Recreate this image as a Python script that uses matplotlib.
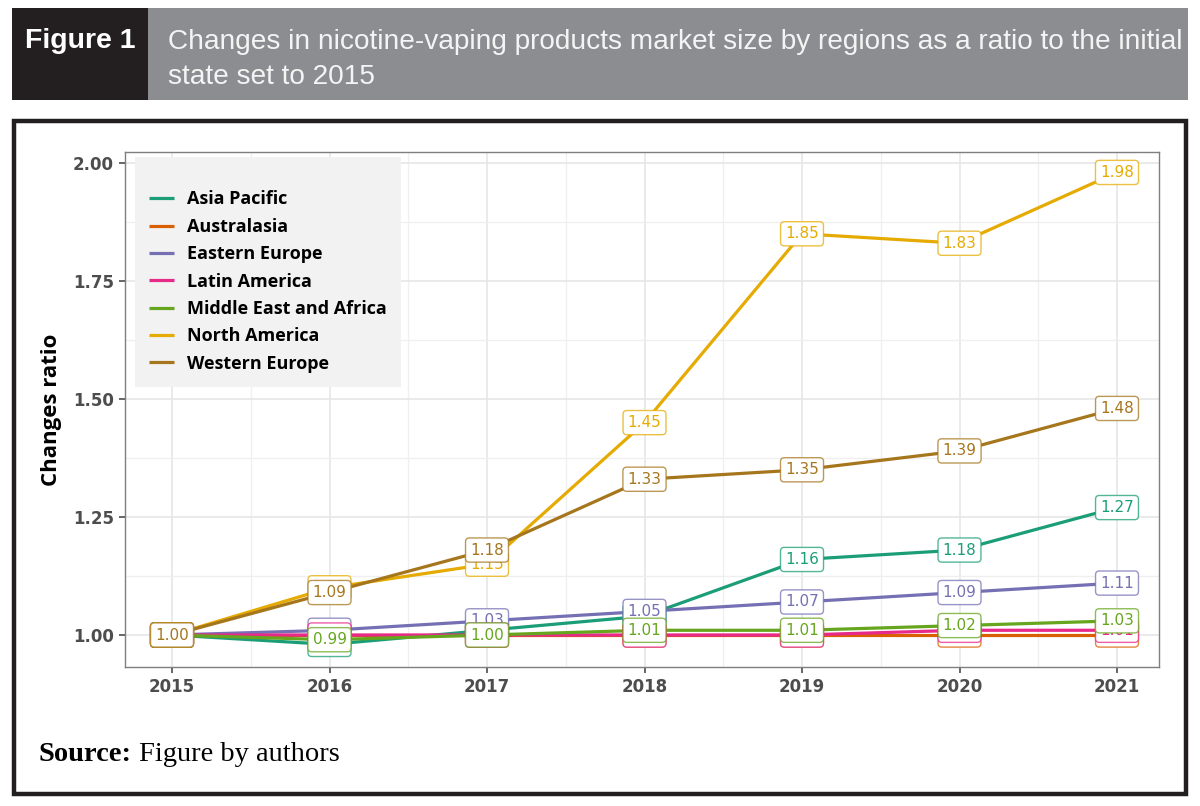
import matplotlib
matplotlib.use("Agg")
import matplotlib.pyplot as plt
from matplotlib.patches import Rectangle
from matplotlib.colors import to_rgba

years = [2015, 2016, 2017, 2018, 2019, 2020, 2021]
regions = ["Asia Pacific", "Australasia", "Eastern Europe", "Latin America",
           "Middle East and Africa", "North America", "Western Europe"]
asia_pacific = [1.00, 0.98, 1.01, 1.04, 1.16, 1.18, 1.27]
australasia = [1.00, 1.00, 1.00, 1.00, 1.00, 1.00, 1.00]
eastern_europe = [1.00, 1.01, 1.03, 1.05, 1.07, 1.09, 1.11]
latin_america = [1.00, 1.00, 1.00, 1.00, 1.00, 1.01, 1.01]
middle_east_africa = [1.00, 0.99, 1.00, 1.01, 1.01, 1.02, 1.03]
north_america = [1.00, 1.10, 1.15, 1.45, 1.85, 1.83, 1.98]
western_europe = [1.00, 1.09, 1.18, 1.33, 1.35, 1.39, 1.48]
series = [asia_pacific, australasia, eastern_europe, latin_america,
          middle_east_africa, north_america, western_europe]
colors = ["#1B9E77", "#D95F02", "#7570B3", "#E7298A", "#66A61E", "#E6AB02", "#A6761D"]
y_ticks = [1.00, 1.25, 1.50, 1.75, 2.00]

W, H = 1200, 806
fig = plt.figure(figsize=(W / 100, H / 100), dpi=100)
fig.patch.set_facecolor("white")

def fx(px):
    return px / W

def fy(py):
    return 1 - py / H

# Header
fig.patches.append(Rectangle((fx(12), fy(100)), fx(136), (92) / H, transform=fig.transFigure,
                             facecolor="#231F20", edgecolor="none"))
fig.patches.append(Rectangle((fx(148), fy(100)), fx(1040), (92) / H, transform=fig.transFigure,
                             facecolor="#8C8D91", edgecolor="none"))
fig.text(fx(25), fy(48), "Figure 1", family="Liberation Sans", weight="bold",
         fontsize=20.5, color="white", va="baseline", ha="left")
fig.text(fx(168), fy(49), "Changes in nicotine-vaping products market size by regions as a ratio to the initial",
         family="Liberation Sans", fontsize=20.2, color="#F4F4F4", va="baseline", ha="left")
fig.text(fx(168), fy(84), "state set to 2015",
         family="Liberation Sans", fontsize=20.2, color="#F4F4F4", va="baseline", ha="left")

# Outer border
fig.patches.append(Rectangle((fx(14), fy(794)), fx(1172), (794 - 121) / H, transform=fig.transFigure,
                             facecolor="none", edgecolor="#231F20", linewidth=3.2))

# Source
fig.text(fx(38), fy(761), "Source:", family="Liberation Serif", weight="bold",
         fontsize=20.5, color="black", va="baseline", ha="left")
fig.text(fx(139), fy(761), "Figure by authors", family="Liberation Serif",
         fontsize=20.5, color="black", va="baseline", ha="left")

# Axes
left, right, top, bottom = 125, 1159, 152, 667
ax = fig.add_axes([fx(left), fy(bottom), (right - left) / W, (bottom - top) / H])
ax.set_facecolor("white")
ax.set_xlim(2015 - 47 / 157.5, 2021 + 42 / 157.5)
ax.set_ylim(1 - 32 / 472, 2 + 11 / 472)

ax.set_xticks(years)
ax.set_xticks([y + 0.5 for y in years[:-1]], minor=True)
ax.set_yticks(y_ticks)
ax.set_yticks([v + 0.125 for v in y_ticks[:-1]], minor=True)
ax.set_yticklabels([f"{v:.2f}" for v in y_ticks])
ax.grid(which="major", color="#E6E6E6", linewidth=1.2)
ax.grid(which="minor", color="#EFEFEF", linewidth=0.9)
ax.set_axisbelow(True)
for s in ax.spines.values():
    s.set_color("#7F7F7F")
    s.set_linewidth(1.0)
ax.tick_params(which="major", length=4, width=1.2, color="#4D4D4D", pad=4)
ax.tick_params(which="minor", length=0)
for lab in ax.get_xticklabels() + ax.get_yticklabels():
    lab.set_family("DejaVu Sans")
    lab.set_fontweight("bold")
    lab.set_fontsize(12)
    lab.set_color("#4D4D4D")
ax.set_ylabel("Changes ratio", family="Open Sans", fontweight="bold", fontsize=16,
              color="black", labelpad=8)

for name, vals, c in zip(regions, series, colors):
    ax.plot(years, vals, color=c, linewidth=2.3, label=name, zorder=2, solid_capstyle="butt")

z = 3
for name, vals, c in zip(regions, series, colors):
    for x, v in zip(years, vals):
        ax.text(x, v, f"{v:.2f}", family="DejaVu Sans", fontsize=11, color=c,
                ha="center", va="center", zorder=z,
                bbox=dict(boxstyle="round,pad=0.3,rounding_size=0.25", facecolor="white",
                          edgecolor=to_rgba(c, 0.75), linewidth=1.0))
        z += 0.001

leg = ax.legend(loc="upper left", bbox_to_anchor=(10 / (right - left), 1 - 5 / (bottom - top)),
                borderaxespad=0, frameon=True, fancybox=False, facecolor="#F2F2F2",
                edgecolor="none", framealpha=1, handlelength=1.4, handletextpad=0.72,
                labelspacing=0.52, borderpad=0.78, title=" ", title_fontsize=7,
                prop={"family": "Open Sans", "weight": "bold", "size": 13})
leg.set_zorder(10)
for lh in leg.get_lines():
    lh.set_linewidth(2.3)

fig.savefig("out.png", dpi=100, facecolor="white")
